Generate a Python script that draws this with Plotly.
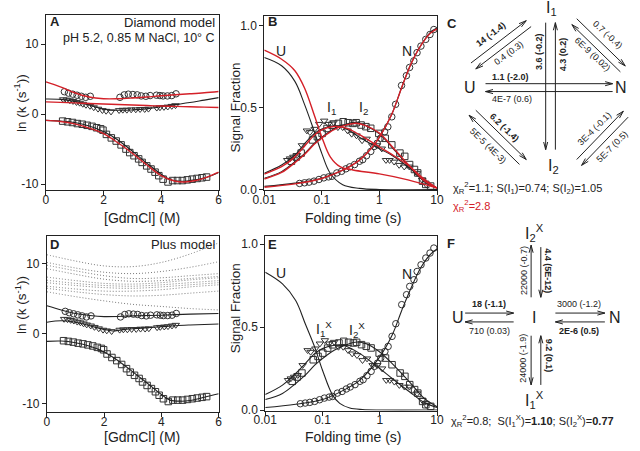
import math
import plotly.graph_objects as go

FONT = "Liberation Sans, Arial, sans-serif"
RED = "rgb(212,32,40)"
BLK = "#222222"
MK = "#333333"

# ---------------- Panels A / D : ln k vs [GdmCl] ----------------
gdm_circ = [0.64, 0.78, 0.93, 1.08, 1.23, 1.38, 1.54, 2.57, 2.72, 2.86, 3.02, 3.17, 3.31, 3.47,
            3.62, 3.84, 3.96, 4.07, 4.22, 4.37, 4.52]
lnk_circ = [3.2, 3.0, 2.85, 2.7, 2.55, 2.4, 2.55, 2.4, 2.75, 2.85, 2.8, 2.75, 2.6, 2.55,
            2.65, 2.7, 2.65, 2.6, 2.6, 2.65, 2.9]

gdm_tri = [0.6, 0.72, 0.83, 0.94, 1.06, 1.17, 1.28, 1.39, 1.53, 1.66, 1.81, 1.96, 2.09, 2.26,
           2.54, 2.67, 2.81, 2.96, 3.12, 3.27, 3.43, 3.56, 3.85, 3.96, 4.1, 4.23, 4.37, 4.5]
lnk_tri = [2.1, 2.05, 1.95, 1.85, 1.7, 1.6, 1.45, 1.3, 1.15, 0.95, 0.75, 0.55, 0.45, 0.35,
           0.55, 0.6, 0.6, 0.65, 0.65, 0.7, 0.7, 0.75, 0.9, 0.95, 1.0, 1.05, 1.15, 1.25]

gdm_sq = [0.58, 0.75, 0.92, 1.09, 1.26, 1.43, 1.6, 1.76, 1.9, 1.98, 2.1, 2.27, 2.44, 2.61, 2.78,
          2.91, 3.06, 3.22, 3.34, 3.5, 3.65, 3.79, 3.92, 4.07, 4.24, 4.4, 4.57, 4.74, 4.91,
          5.08, 5.25, 5.42, 5.58]
lnk_sq = [-1.0, -1.1, -1.2, -1.35, -1.45, -1.6, -1.75, -1.95, -2.1, -2.3, -2.9, -3.4, -3.85,
          -4.4, -5.0, -5.5, -5.95, -6.4, -6.9, -7.4, -7.85, -8.3, -8.8, -9.3, -9.7, -9.5,
          -9.5, -9.5, -9.4, -9.3, -9.2, -9.1, -9.0]

fit_gdm = [0, 0.5, 1, 1.5, 2, 2.5, 3, 3.5, 4, 4.5, 5, 5.5, 6]
# Diamond model fits
dia_black_tri = [2.15, 2.1, 1.8, 1.3, 0.7, 0.55, 0.6, 0.75, 1.05, 1.35, 1.65, 2.0, 2.35]
dia_red_top = [4.6, 3.9, 3.05, 2.44, 2.2, 2.2, 2.3, 2.44, 2.63, 2.77, 2.9, 3.05, 3.24]
dia_red_low = [1.75, 1.68, 1.6, 1.52, 1.45, 1.37, 1.3, 1.22, 1.15, 1.1, 1.05, 1.0, 0.95]
sq_fit_gdm = [0, 0.5, 1, 1.5, 2, 2.5, 3, 3.5, 4, 4.3, 4.7, 5, 5.5, 6]
dia_black_sq = [-0.9, -1.0, -1.2, -1.7, -2.5, -3.7, -5.3, -7.0, -8.6, -9.35, -9.6, -9.5, -9.15, -8.35]
red_sq_gdm = [0, 0.5, 1, 1.5, 2, 2.5, 3, 3.5, 4, 4.5, 4.8, 5.2, 5.6, 6]
dia_red_sq = [-0.9, -1.05, -1.4, -2.0, -2.8, -4.1, -5.6, -7.25, -8.8, -9.6, -9.7, -9.5, -9.0, -8.3]

# Plus model fits
plus_circ_gdm = [0, 0.5, 1, 1.5, 2, 3, 4, 5, 6]
plus_circ = [4.0, 3.4, 2.9, 2.6, 2.45, 2.55, 2.65, 2.8, 2.9]
plus_tri_gdm = [0, 0.5, 1, 1.5, 2, 2.3, 2.6, 3, 3.5, 4, 4.5, 5, 6]
plus_tri = [1.65, 1.85, 1.65, 1.15, 0.6, 0.4, 0.55, 0.7, 0.85, 1.0, 1.15, 1.25, 1.4]
plus_sq = [-1.1, -1.05, -1.3, -1.8, -2.6, -3.9, -5.45, -7.05, -8.7, -9.5, -9.65, -9.55, -9.1, -8.6]
hidden_gdm = [0, 1, 2, 3, 4, 5, 6]
hidden_1 = [11.3, 10.4, 9.7, 9.6, 10.2, 11.4, 13.0]
hidden_2 = [10.2, 9.4, 8.8, 8.6, 8.9, 9.5, 10.3]
hidden_3 = [9.8, 9.0, 8.3, 7.9, 8.0, 8.3, 8.6]
hidden_4 = [9.3, 8.5, 7.8, 7.5, 7.6, 7.9, 8.2]
hidden_5 = [8.1, 7.6, 7.2, 7.1, 7.3, 7.7, 8.0]
hidden_6 = [7.65, 7.2, 6.9, 6.8, 7.0, 7.3, 7.6]
hidden_7 = [7.3, 6.9, 6.6, 6.5, 6.7, 7.0, 7.3]
hidden_8 = [6.8, 6.4, 6.1, 6.1, 6.3, 6.7, 7.0]
hidden_9 = [6.5, 6.0, 5.6, 5.4, 5.5, 5.8, 6.1]
hidden_10 = [6.0, 5.3, 4.7, 4.2, 3.9, 3.6, 3.4]

# ---------------- Panels B / E : signal fraction vs folding time ----------------
t_circ = [0.041, 0.050, 0.060, 0.073, 0.089, 0.108, 0.131, 0.150, 0.182, 0.220, 0.261, 0.305,
          0.370, 0.450, 0.512, 0.597, 0.707, 0.805, 0.916, 1.04, 1.23, 1.40, 1.64, 1.91, 2.42,
          2.94, 3.34, 3.96, 4.50, 5.26, 6.38, 7.55, 8.81]
f_circ = [0.038, 0.042, 0.046, 0.052, 0.062, 0.072, 0.078, 0.082, 0.102, 0.112, 0.127, 0.139,
          0.153, 0.173, 0.183, 0.207, 0.233, 0.263, 0.283, 0.313, 0.353, 0.383, 0.444, 0.520,
          0.635, 0.695, 0.745, 0.785, 0.835, 0.875, 0.916, 0.946, 0.976]
t_tri = [0.025, 0.028, 0.032, 0.037, 0.045, 0.055, 0.062, 0.075, 0.09, 0.11, 0.13, 0.16, 0.19,
         0.23, 0.28, 0.33, 0.4, 0.5, 0.6, 0.75, 0.9, 1.1, 1.3, 1.5, 1.8, 2.2, 2.7, 3.3, 4.5,
         5.5, 6.5]
f_tri = [0.18, 0.19, 0.20, 0.21, 0.27, 0.36, 0.35, 0.37, 0.40, 0.42, 0.40, 0.41, 0.38, 0.38,
         0.36, 0.34, 0.33, 0.30, 0.31, 0.27, 0.27, 0.25, 0.18, 0.18, 0.17, 0.15, 0.14, 0.14,
         0.10, 0.06, 0.03]
t_sq = [0.0296, 0.036, 0.0437, 0.0689, 0.0836, 0.101, 0.123, 0.150, 0.194, 0.235, 0.286, 0.347,
        0.395, 0.48, 0.582, 0.706, 0.977, 1.26, 1.64, 2.27, 2.75, 3.34, 4.06, 4.62, 5.61,
        6.38, 7.75]
f_sq = [0.173, 0.199, 0.223, 0.303, 0.323, 0.343, 0.373, 0.393, 0.404, 0.414, 0.408, 0.404,
        0.408, 0.394, 0.384, 0.374, 0.343, 0.313, 0.273, 0.223, 0.203, 0.153, 0.123, 0.102,
        0.052, 0.032, 0.022]

tU_b = [0.01, 0.02, 0.034, 0.05, 0.073, 0.1, 0.14, 0.23, 0.45, 1, 10]
U_black = [0.805, 0.755, 0.66, 0.52, 0.36, 0.22, 0.10, 0.03, 0.008, 0.001, 0.0]
tU_r = [0.01, 0.02, 0.034, 0.05, 0.073, 0.1, 0.14, 0.207, 0.347, 1, 3.13, 10]
U_red = [0.85, 0.795, 0.725, 0.62, 0.46, 0.32, 0.2, 0.14, 0.12, 0.096, 0.06, 0.01]
tI1 = [0.01, 0.02, 0.034, 0.05, 0.073, 0.1, 0.16, 0.268, 0.45, 1, 1.64, 3.13, 5.98, 10]
I1_black = [0.10, 0.15, 0.21, 0.28, 0.34, 0.37, 0.39, 0.37, 0.32, 0.25, 0.21, 0.14, 0.06, 0.01]
I1_red = [0.095, 0.14, 0.20, 0.265, 0.33, 0.365, 0.385, 0.375, 0.335, 0.26, 0.215, 0.15, 0.065, 0.01]
tI2 = [0.01, 0.02, 0.034, 0.05, 0.073, 0.1, 0.16, 0.268, 0.395, 0.582, 1, 1.64, 3.13, 5.98, 10]
I2_black = [0.07, 0.11, 0.17, 0.22, 0.28, 0.32, 0.37, 0.40, 0.41, 0.39, 0.34, 0.26, 0.15, 0.05, 0.01]
I2_red = [0.065, 0.105, 0.165, 0.215, 0.275, 0.315, 0.365, 0.395, 0.405, 0.39, 0.345, 0.265, 0.155, 0.055, 0.01]
tN = [0.01, 0.034, 0.1, 0.235, 0.45, 0.754, 1, 1.64, 2.42, 3.57, 5.26, 7.75, 10]
N_black = [0.02, 0.04, 0.07, 0.12, 0.18, 0.26, 0.32, 0.46, 0.62, 0.77, 0.88, 0.96, 0.985]
N_red = [0.015, 0.035, 0.068, 0.12, 0.18, 0.26, 0.32, 0.46, 0.62, 0.77, 0.88, 0.955, 0.98]

tU_e = [0.01, 0.02, 0.034, 0.05, 0.073, 0.1, 0.15, 0.2, 0.3, 0.5, 1, 10]
U_plus = [0.83, 0.76, 0.66, 0.52, 0.38, 0.24, 0.09, 0.04, 0.012, 0.003, 0.0, 0.0]
tX = [0.01, 0.02, 0.034, 0.05, 0.073, 0.1, 0.16, 0.23, 0.45, 1, 1.65, 3.3, 6, 10]
I1X_plus = [0.093, 0.15, 0.22, 0.28, 0.34, 0.37, 0.39, 0.39, 0.34, 0.25, 0.19, 0.11, 0.045, 0.015]
tX2 = [0.01, 0.02, 0.034, 0.05, 0.073, 0.1, 0.16, 0.27, 0.4, 0.58, 1, 1.65, 3.3, 6, 10]
I2X_plus = [0.063, 0.10, 0.16, 0.21, 0.27, 0.31, 0.36, 0.395, 0.41, 0.40, 0.35, 0.28, 0.17, 0.07, 0.02]
tNe = [0.01, 0.034, 0.1, 0.235, 0.45, 1, 1.64, 2.42, 3.57, 5.26, 7.75, 10]
N_plus = [0.015, 0.035, 0.063, 0.12, 0.18, 0.32, 0.45, 0.60, 0.74, 0.86, 0.94, 0.97]

# tick labels
lnk_ticks = [-10, 0, 10]
lnk_ticktext = ["-10", "0", "10"]
gdm_ticks = [0, 2, 4, 6]
time_ticks = [0.01, 0.1, 1, 10]
time_ticktext = ["0.01", "0.1", "1", "10"]
frac_ticks = [0, 0.5, 1.0]
frac_ticktext = ["0.0", "0.5", "1.0"]

W, H = 640, 451


def X(px):
    return px / W


def Y(py):
    return 1 - py / H


fig = go.Figure()


def markers(xs, ys, sym, xa, ya):
    fig.add_trace(go.Scatter(x=xs, y=ys, mode="markers", xaxis=xa, yaxis=ya,
                             marker=dict(symbol=sym, size=6.5, color=MK, line=dict(width=1, color=MK)),
                             showlegend=False, hoverinfo="skip"))


def curve(xs, ys, color, xa, ya, width=1.1, dash="solid"):
    fig.add_trace(go.Scatter(x=xs, y=ys, mode="lines", xaxis=xa, yaxis=ya,
                             line=dict(color=color, width=width, shape="spline", dash=dash),
                             showlegend=False, hoverinfo="skip"))


# Panel A
markers(gdm_circ, lnk_circ, "circle-open", "x", "y")
markers(gdm_tri, lnk_tri, "triangle-down-open", "x", "y")
markers(gdm_sq, lnk_sq, "square-open", "x", "y")
curve(fit_gdm, dia_black_tri, BLK, "x", "y")
curve(sq_fit_gdm, dia_black_sq, BLK, "x", "y")
curve(fit_gdm, dia_red_top, RED, "x", "y", 1.4)
curve(fit_gdm, dia_red_low, RED, "x", "y", 1.4)
curve(red_sq_gdm, dia_red_sq, RED, "x", "y", 1.4)

# Panel B
markers(t_circ, f_circ, "circle-open", "x2", "y2")
markers(t_tri, f_tri, "triangle-down-open", "x2", "y2")
markers(t_sq, f_sq, "square-open", "x2", "y2")
curve(tU_b, U_black, BLK, "x2", "y2")
curve(tI1, I1_black, BLK, "x2", "y2")
curve(tI2, I2_black, BLK, "x2", "y2")
curve(tN, N_black, BLK, "x2", "y2")
curve(tU_r, U_red, RED, "x2", "y2", 1.4)
curve(tI1, I1_red, RED, "x2", "y2", 1.4)
curve(tI2, I2_red, RED, "x2", "y2", 1.4)
curve(tN, N_red, RED, "x2", "y2", 1.4)

# Panel D
for hy in [hidden_1, hidden_2, hidden_3, hidden_4, hidden_5, hidden_6, hidden_7, hidden_8,
           hidden_9, hidden_10]:
    curve(hidden_gdm, hy, "#7a7a7a", "x3", "y3", 1.0, "1px,2px")
markers(gdm_circ, lnk_circ, "circle-open", "x3", "y3")
markers(gdm_tri, lnk_tri, "triangle-down-open", "x3", "y3")
markers(gdm_sq, lnk_sq, "square-open", "x3", "y3")
curve(plus_circ_gdm, plus_circ, BLK, "x3", "y3")
curve(plus_tri_gdm, plus_tri, BLK, "x3", "y3")
curve(sq_fit_gdm, plus_sq, BLK, "x3", "y3")

# Panel E
markers(t_circ, f_circ, "circle-open", "x4", "y4")
markers(t_tri, f_tri, "triangle-down-open", "x4", "y4")
markers(t_sq, f_sq, "square-open", "x4", "y4")
curve(tU_e, U_plus, BLK, "x4", "y4")
curve(tX, I1X_plus, BLK, "x4", "y4")
curve(tX2, I2X_plus, BLK, "x4", "y4")
curve(tNe, N_plus, BLK, "x4", "y4")


def axis(dom, anchor, **kw):
    d = dict(domain=dom, anchor=anchor, showline=True, linecolor=BLK, linewidth=1, mirror=True,
             ticks="outside", ticklen=4, tickwidth=1, tickcolor=BLK, showgrid=False,
             zeroline=False, tickfont=dict(family=FONT, size=12, color=BLK))
    d.update(kw)
    return d


layout = dict(
    width=W, height=H, autosize=False, margin=dict(l=0, r=0, t=0, b=0),
    paper_bgcolor="white", plot_bgcolor="white", showlegend=False,
    xaxis=axis([X(35), X(213)], "y", range=[0, 6], tickvals=gdm_ticks, ticklabelstandoff=-5),
    yaxis=axis([Y(193), Y(15)], "x", range=[-10.85, 14.2], tickvals=lnk_ticks, ticktext=lnk_ticktext),
    xaxis2=axis([X(260), X(438)], "y2", type="log", range=[-2, 1], tickvals=time_ticks,
                ticktext=time_ticktext, ticklabelstandoff=-5),
    yaxis2=axis([Y(193), Y(16)], "x2", range=[-0.002, 1.06], tickvals=frac_ticks, ticktext=frac_ticktext),
    xaxis3=axis([X(36), X(213)], "y3", range=[0, 6], tickvals=gdm_ticks, ticklabelstandoff=-6),
    yaxis3=axis([Y(419), Y(240)], "x3", range=[-11.27, 13.94], tickvals=lnk_ticks, ticktext=lnk_ticktext),
    xaxis4=axis([X(261), X(438)], "y4", type="log", range=[-2, 1], tickvals=time_ticks,
                ticktext=time_ticktext, ticklabelstandoff=-6),
    yaxis4=axis([Y(417), Y(240)], "x4", range=[-0.003, 1.047], tickvals=frac_ticks, ticktext=frac_ticktext),
)

ann = []


def text(s, px, py, size=10, angle=0, color=BLK, xanchor="center", yanchor="middle", bold=False):
    if bold:
        s = "<b>" + s + "</b>"
    ann.append(dict(text=s, x=X(px), y=Y(py), xref="paper", yref="paper", showarrow=False,
                    textangle=angle, xanchor=xanchor, yanchor=yanchor,
                    font=dict(family=FONT, size=size, color=color)))


shapes = []


def arrow(x0, y0, x1, y1, hl=8, ha=15):
    ang = math.atan2(y1 - y0, x1 - x0)
    a1 = ang + math.pi - math.radians(ha)
    a2 = ang + math.pi + math.radians(ha)
    h1 = (x1 + hl * math.cos(a1), y1 + hl * math.sin(a1))
    h2 = (x1 + hl * math.cos(a2), y1 + hl * math.sin(a2))
    p = (f"M {X(x0):.5f},{Y(y0):.5f} L {X(x1):.5f},{Y(y1):.5f} "
         f"M {X(h1[0]):.5f},{Y(h1[1]):.5f} L {X(x1):.5f},{Y(y1):.5f} L {X(h2[0]):.5f},{Y(h2[1]):.5f}")
    shapes.append(dict(type="path", xref="paper", yref="paper", path=p,
                       line=dict(color=BLK, width=1)))


RS = 9  # rate label size
XT = 14  # x-axis title size
YT = 13.5  # y-axis title size

# panel letters
for L, px, py in [("A", 37, 22), ("B", 262, 22), ("C", 446, 24), ("D", 37, 248), ("E", 262, 248), ("F", 446, 247)]:
    text(L, px, py, size=13, xanchor="left", bold=True)

# axis titles
text("ln (k (s<sup>-1</sup>))", 9, 105, size=YT, angle=-90)
text("[GdmCl] (M)", 134, 221, size=XT)
text("Signal Fraction", 230, 109, size=YT, angle=-90)
text("Folding time (s)", 351, 221, size=XT)
text("ln (k (s<sup>-1</sup>))", 9, 310, size=YT, angle=-90)
text("[GdmCl] (M)", 134, 443.5, size=XT)
text("Signal Fraction", 230, 313, size=YT, angle=-90)
text("Folding time (s)", 351, 443.5, size=XT)

# panel A / D notes
text("Diamond model", 211, 23, size=13, xanchor="right")
text("pH 5.2, 0.85 M NaCl, 10° C", 211, 39, size=12.5, xanchor="right")
text("Plus model", 211, 248, size=13, xanchor="right")

# panel B / E species labels
text("U", 277, 52, size=14)
text("N", 407, 52, size=14)
text("I<sub>1</sub>", 329, 110, size=14)
text("I<sub>2</sub>", 362, 110, size=14)
text("U", 277, 277, size=14)
text("N", 407, 278, size=14)
text("I<sub>1</sub><sup>X</sup>", 322, 334, size=14)
text("I<sub>2</sub><sup>X</sup>", 356, 335, size=14)

# ---------------- Panel C : diamond scheme ----------------
text("U", 472, 89, size=16)
text("N", 628, 89, size=16)
text("I<sub>1</sub>", 556, 9, size=16)
text("I<sub>2</sub>", 558, 169, size=16)
arrow(488, 85, 619, 85)
arrow(619, 93, 488, 93)
text("1.1 (-2.0)", 514, 78, size=RS, bold=True)
text("4E-7 (0.6)", 515, 101, size=RS)
arrow(550, 23, 550, 152)
arrow(560, 152, 560, 23)
text("3.6 (-0.2)", 543, 52, size=RS, angle=-90, bold=True)
text("4.3 (0.2)", 568, 55, size=RS, angle=-90, bold=True)
arrow(473, 64, 530, 21)
arrow(535, 27, 478, 70)
text("14 (-1.4)", 494, 35, size=RS, angle=-37, bold=True)
text("0.4 (0.3)", 512, 54, size=RS, angle=-37)
arrow(582, 19, 632, 67)
arrow(627, 73, 577, 25)
text("0.7 (-0.4)", 614, 36, size=RS, angle=43)
text("6E-9 (0.02)", 598, 55, size=RS, angle=43)
arrow(478, 112, 530, 162)
arrow(523, 167, 471, 117)
text("6.2 (-1.4)", 508, 130, size=RS, angle=44, bold=True)
text("5E-5 (4E-3)", 491, 148, size=RS, angle=44)
arrow(582, 162, 630, 113)
arrow(635, 119, 587, 168)
text("3E-4 (-0.1)", 600, 131, size=RS, angle=-45)
text("5E-7 (0.5)", 618, 149, size=RS, angle=-45)
text("χ<sub>R</sub><sup>2</sup>=1.1; S(I<sub>1</sub>)=0.74; S(I<sub>2</sub>)=1.05", 452, 191, size=11, xanchor="left")
text("χ<sub>R</sub><sup>2</sup>=2.8", 452, 209, size=11, xanchor="left", color=RED)

# ---------------- Panel F : plus scheme ----------------
text("U", 460, 322, size=16)
text("I", 538, 322, size=16)
text("N", 621, 322, size=16)
text("I<sub>2</sub><sup>X</sup>", 539, 237, size=16)
text("I<sub>1</sub><sup>X</sup>", 539, 406, size=16)
arrow(467, 318, 517, 318)
arrow(517, 327, 467, 327)
text("18 (-1.1)", 492, 309, size=RS, bold=True)
text("710 (0.03)", 492, 336, size=RS)
arrow(560, 318, 611, 318)
arrow(611, 327, 560, 327)
text("3000 (-1.2)", 584, 309, size=RS)
text("2E-6 (0.5)", 584, 336, size=RS, bold=True)
arrow(535, 302, 535, 249)
arrow(545, 251, 545, 302)
text("22000 (-0.7)", 527, 275, size=RS, angle=-90)
text("4.4 (5E-12)", 553, 275, size=RS, angle=90, bold=True)
arrow(535, 341, 535, 391)
arrow(545, 391, 545, 341)
text("24000 (-1.9)", 527, 364, size=RS, angle=-90)
text("9.2 (0.1)", 553, 361, size=RS, angle=90, bold=True)
text("χ<sub>R</sub><sup>2</sup>=0.8;  S(I<sub>1</sub><sup>X</sup>)=<b>1.10</b>; S(I<sub>2</sub><sup>X</sup>)=<b>0.77</b>",
     450, 428, size=11, xanchor="left")

layout["annotations"] = ann
layout["shapes"] = shapes
fig.update_layout(**layout)
fig.write_html("out.html", config={"displayModeBar": False},
               post_script="document.body.style.margin='0px';document.body.style.overflow='hidden';")
